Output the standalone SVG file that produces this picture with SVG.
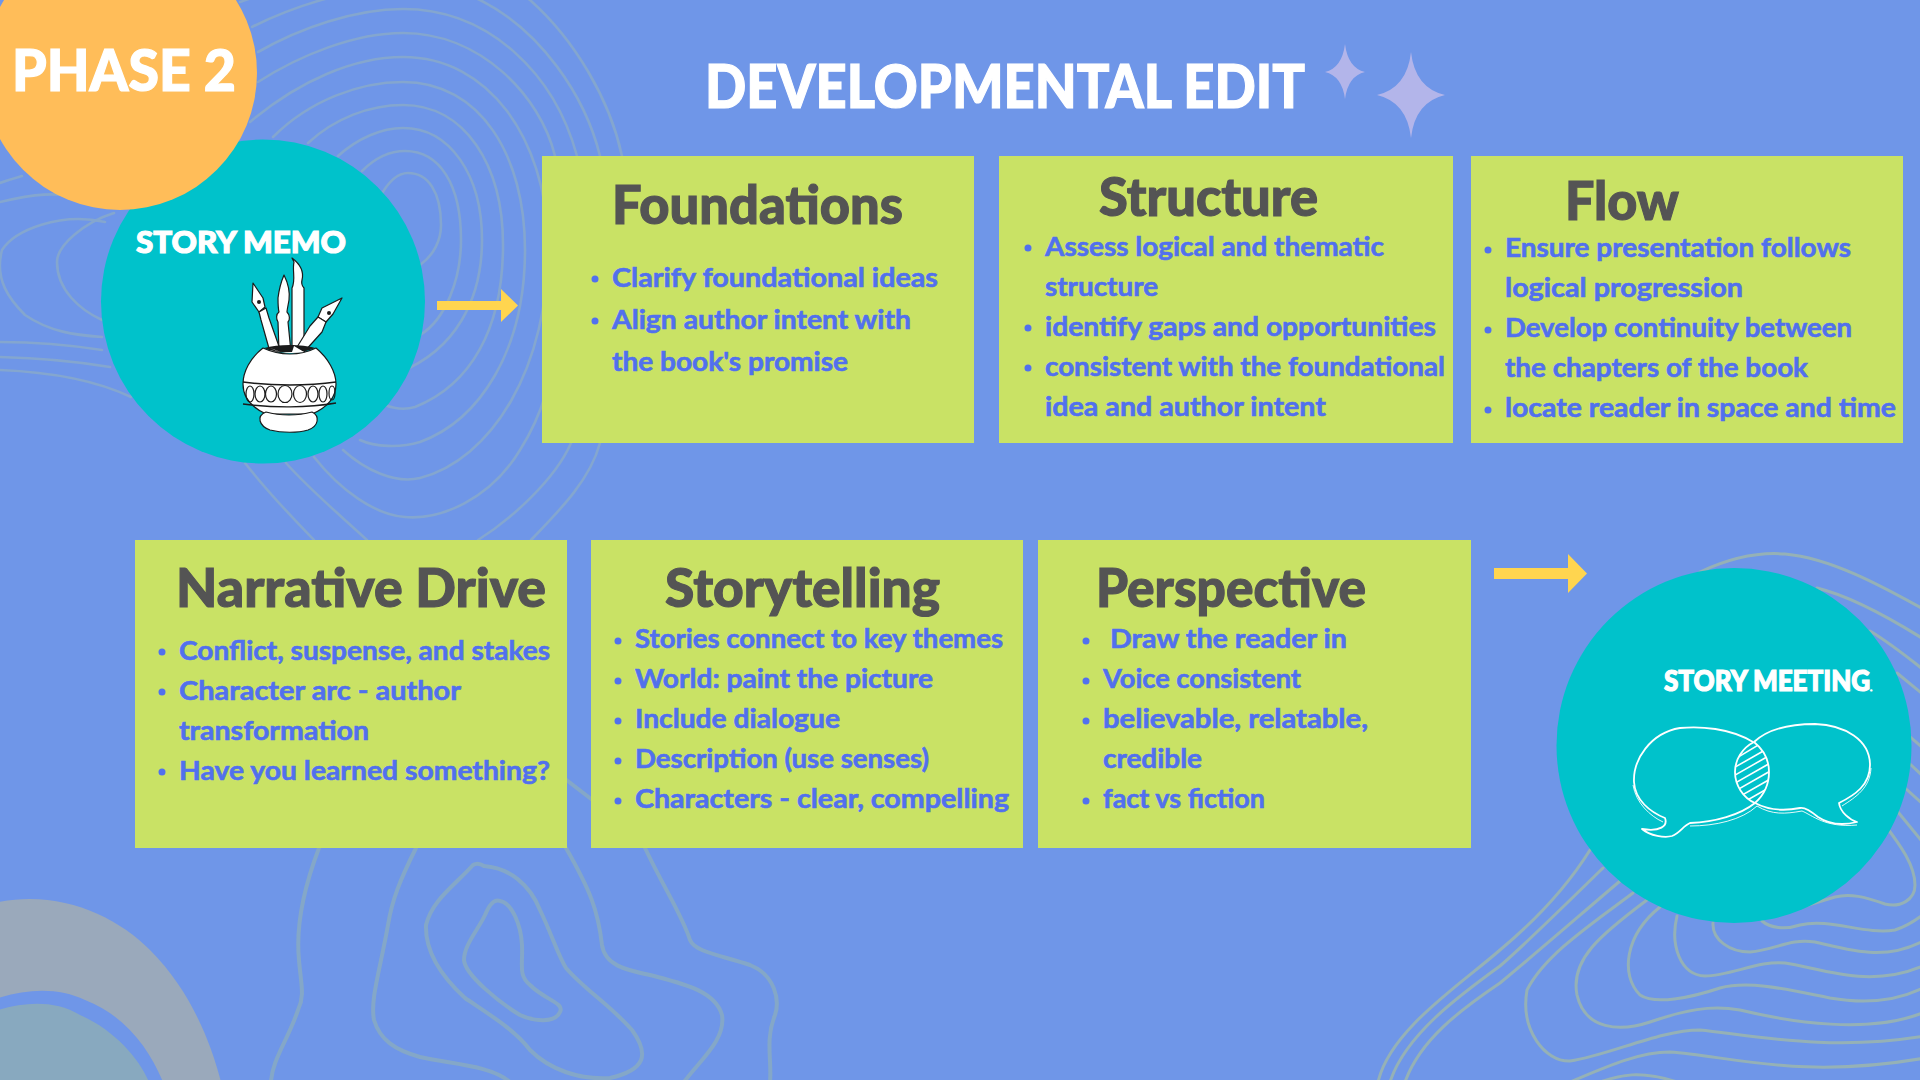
<svg xmlns="http://www.w3.org/2000/svg" width="1920" height="1080" viewBox="0 0 1920 1080">
<style>
text{font-family:"Lato","Open Sans","Liberation Sans",sans-serif;font-weight:700}
.t{font-size:53px;fill:#545454;font-weight:900;stroke:#545454;stroke-width:1.1px}
.l{font-size:27.5px;fill:#5170ee;stroke:#5170ee;stroke-width:.6px}
.w{fill:#fff;font-weight:900;stroke:#fff;stroke-width:1.2px}
.b{fill:#5170ee}
.card{fill:#c9e265}
.teal{fill:#00c2cb}
.c1,.c2,.c3{fill:none;stroke-linecap:round;stroke-linejoin:round}
.c1{stroke:#84a6cf;stroke-width:2.6}
.c2{stroke:#84a7c8;stroke-width:4}
.c3{stroke:#95b1b6;stroke-width:3}
.ink{fill:#fff;stroke:#1a1a1a;stroke-width:1.2;stroke-linejoin:round}
.bub{fill:none;stroke:#fff;stroke-width:1.8;stroke-linejoin:round}
.thin{fill:none;stroke:#fff;stroke-width:.9}
.arr{fill:#ffd54f}
</style>
<defs>
<clipPath id="lens"><path d="M1754 742C1742 748 1735 760 1735 772C1735 785 1743 798 1755 803C1764 795 1769 785 1769 772C1769 760 1764 750 1754 742Z"/></clipPath>
</defs>
<rect width="1920" height="1080" fill="#6f96e8"/>
<g id="background">
<path d="M-2 902C60 890 115 915 150 950C190 990 210 1040 221 1082H-2Z" fill="#9aa9bb"/>
<path d="M-2 998C30 988 60 988 85 1000C125 1015 150 1050 163 1082H-2Z" fill="#6f96e8"/>
<path d="M-2 1010C25 1002 55 1000 80 1015C115 1030 140 1060 149 1082H-2Z" fill="#88a9bf"/>
<g class="c1">
<path d="M380 197C388 182 398 173 408 173C428 173 441 192 441 225C441 240 434 255 420 265"/>
<path d="M362 171C375 158 390 151 405 151C440 151 461 185 461 240C461 280 445 320 420 335"/>
<path d="M338 156C358 138 382 128 403 128C450 128 482 175 482 240C482 300 455 350 400 372"/>
<path d="M308 143C335 118 370 105 403 105C465 105 503 165 503 245C503 330 470 385 415 407C405 410 395 409 385 405"/>
<path d="M273 137C310 100 360 82 403 82C480 82 525 155 525 250C525 350 480 420 420 442C400 448 375 447 360 440"/>
<path d="M250 122C300 80 355 57 403 57C490 57 545 140 548 240C550 370 490 460 420 478C395 484 365 470 343 450"/>
<path d="M258 82C300 55 355 33 403 33C480 33 540 95 555 156C575 260 565 380 520 450C490 500 440 520 405 517C375 515 340 490 314 457"/>
<path d="M258 52C300 28 355 9 403 9C490 9 555 75 577 156C595 270 590 380 571 443C555 480 510 520 478 540"/>
<path d="M252 27C290 8 350 -13 403 -13C440 -13 460 -8 480 0C540 30 585 95 600 156C615 260 612 370 600 443C590 480 560 510 531 540"/>
<path d="M240 2C280 -12 340 -30 403 -30C450 -30 500 -20 530 0C575 40 610 100 622 156"/>
<path d="M245 463C270 495 290 515 314 540"/>
<path d="M286 463C310 490 340 515 367 540"/>
<path d="M114 213C85 222 57 245 57 262C57 290 80 310 102 320"/>
<path d="M105 222C60 212 15 230 2 250C-6 280 10 300 25 315C50 332 75 335 102 337"/>
<path d="M0 202C30 195 60 190 82 200"/>
<path d="M0 183C8 180 15 178 22 176"/>
<path d="M0 342C35 342 70 345 102 350"/>
<path d="M0 357C40 358 80 362 110 367"/>
<path d="M0 370C50 372 95 380 131 397"/>
</g>
<g class="c2">
<path d="M319 848C303 890 296 930 299 960C301 985 305 995 298 1010C288 1040 272 1060 271 1082"/>
<path d="M416 848C400 880 392 900 388 925C380 970 370 1000 374 1020C380 1040 395 1050 420 1057C450 1064 490 1065 510 1082"/>
<path d="M484 866C510 868 530 885 540 910C552 935 558 955 566 968C585 990 610 1005 632 1030C650 1055 645 1070 610 1078C580 1080 550 1070 530 1050C515 1030 490 1015 465 998C440 975 425 950 426 925C432 900 455 885 473 865Q478 862 484 866Z"/>
<path d="M500 901C512 903 521 925 522 945C523 965 518 975 530 985C545 1000 565 1003 560 1012C555 1023 535 1022 520 1015C500 1003 465 975 464 960C464 945 478 930 485 915C490 903 495 899 500 901Z"/>
<path d="M566 848C590 890 598 910 602 945C605 965 625 970 650 975C680 983 715 990 722 1015C726 1040 700 1060 684 1082"/>
<path d="M645 848C665 890 682 915 690 940C695 952 720 955 750 965C775 975 780 1000 775 1015C765 1040 772 1060 770 1082"/>
<path d="M560 775L595 802"/>
</g>
<g class="c3">
<path d="M1700 572C1730 558 1760 552 1785 554C1830 558 1880 585 1925 610"/>
<path d="M1817 588C1850 596 1890 618 1925 640"/>
<path d="M1870 631C1885 640 1905 655 1925 671"/>
<path d="M1897 673L1925 696"/>
<path d="M1908 735L1925 750"/>
<path d="M1910 764L1925 778"/>
<path d="M1905 788L1925 806"/>
<path d="M1898 812L1925 845"/>
<path d="M1885 825C1900 845 1915 865 1915 885C1915 900 1900 908 1885 904C1865 897 1850 893 1835 897C1825 900 1815 903 1805 906"/>
<path d="M1762 921C1770 928 1785 930 1800 925C1830 918 1865 935 1895 930Q1910 925 1925 913"/>
<path d="M1713 923C1712 940 1730 952 1750 952C1775 950 1790 938 1815 942C1850 950 1885 962 1925 940"/>
<path d="M1677 916C1670 945 1680 975 1705 976C1730 976 1760 960 1785 963C1820 968 1870 990 1925 965"/>
<path d="M1660 907C1625 935 1620 975 1640 995C1655 1005 1690 998 1720 988C1750 980 1790 990 1830 998C1870 1005 1900 1000 1925 987"/>
<path d="M1647 900C1600 935 1570 960 1577 995C1585 1030 1620 1032 1650 1022C1685 1010 1710 1005 1740 1010C1790 1022 1870 1035 1925 1012"/>
<path d="M1633 893C1590 925 1545 955 1527 990C1520 1030 1545 1062 1570 1061C1610 1055 1660 1030 1700 1030C1750 1035 1830 1052 1925 1036"/>
<path d="M1620 881C1580 915 1540 950 1500 983C1460 1010 1420 1040 1405 1082"/>
<path d="M1603 868C1570 900 1530 940 1500 966C1460 995 1405 1035 1390 1082"/>
<path d="M1590 850C1565 890 1530 925 1500 950C1460 985 1390 1030 1378 1082"/>
<path d="M1570 1082C1610 1065 1640 1052 1670 1052C1730 1056 1800 1080 1925 1058"/>
<path d="M1600 1082C1620 1075 1640 1070 1677 1082"/>
</g>
</g>

<g id="title">
<text class="w" x="705" y="108" font-size="61" textLength="600" lengthAdjust="spacingAndGlyphs">DEVELOPMENTAL EDIT</text>
<path d="M1345 44Q1348 68 1365 72Q1348 76 1345 99Q1342 76 1325 72Q1342 68 1345 44Z" fill="#b3b5ea"/>
<path d="M1411 52Q1415 88 1445 95Q1415 102 1411 138Q1407 102 1377 95Q1407 88 1411 52Z" fill="#b3b5ea"/>
</g>

<g id="story-memo">
<circle class="teal" cx="263" cy="301.5" r="162"/>
<text class="w" x="136" y="253" font-size="31" textLength="210" lengthAdjust="spacingAndGlyphs">STORY MEMO</text>
<g id="pen-pot">
<path class="ink" d="M292 288C296 280 292 270 294 262L292 258C300 264 304 272 302 280C301 284 303 287 304 288L304 352L292 352Z"/>
<path class="ink" d="M284 275C288 283 290 292 289 300C288 306 287 310 287 312C290 315 290 320 288 322L291 352L279 352L278 322C276 319 276 314 279 312C278 308 278 304 278 298C279 290 281 282 284 275Z"/>
<path class="ink" d="M253 283L263 298L265 307L259 312L252 302Z"/>
<path class="ink" d="M259 312L266 308L269 318L281 352L270 352L261 320Z"/>
<path class="ink" d="M342 298L333 314L326 322L318 317L322 308Z"/>
<path class="ink" d="M318 317L326 322L322 332L304 352L294 352L310 326Z"/>
<circle cx="259" cy="302" r="2" fill="#1a1a1a"/>
<circle cx="329" cy="313" r="2" fill="#1a1a1a"/>
<path class="ink" d="M263 348C250 358 243 372 243 384C243 398 253 408 266 414L312 414C326 408 336 398 336 384C336 372 328 358 316 348C300 356 280 356 263 348Z"/>
<path d="M264 348C278 344 302 344 315 348C302 354 278 354 264 348Z" fill="#1a1a1a"/>
<path d="M270 348L281 352L292 352L294 346L304 352C290 354 280 353 270 348Z" fill="#fff"/>
<path d="M243 382C272 386 308 386 336 382M243 404C272 408 308 408 336 403" fill="none" stroke="#1a1a1a" stroke-width="1.4"/>
<g fill="none" stroke="#1a1a1a" stroke-width="1.2">
<ellipse cx="250" cy="394" rx="4" ry="8"/>
<ellipse cx="260" cy="394" rx="5" ry="8"/>
<ellipse cx="271" cy="394" rx="5.5" ry="8"/>
<ellipse cx="285" cy="394" rx="7" ry="8.5"/>
<ellipse cx="300" cy="394" rx="6.5" ry="8.5"/>
<ellipse cx="313" cy="394" rx="5" ry="8"/>
<ellipse cx="323" cy="394" rx="4" ry="8"/>
<ellipse cx="332" cy="393" rx="3" ry="7"/>
</g>
<path class="ink" d="M266 412C256 416 259 426 270 430C282 433 298 433 308 430C319 426 320 416 312 412C298 416 280 416 266 412Z"/>
</g>
</g>

<g id="phase-2">
<circle cx="120" cy="73" r="137" fill="#ffbd59"/>
<text class="w" x="12" y="91" font-size="58" textLength="224" lengthAdjust="spacingAndGlyphs">PHASE 2</text>
</g>

<g id="foundations">
<rect class="card" x="542" y="156" width="432" height="287"/>
<text class="t" x="612" y="224" textLength="291" lengthAdjust="spacingAndGlyphs">Foundations</text>
<circle class="b" cx="595" cy="279" r="3.5"/><circle class="b" cx="595" cy="321" r="3.5"/>
<text class="l" x="612" y="287" textLength="326" lengthAdjust="spacingAndGlyphs">Clarify foundational ideas</text>
<text class="l" x="612" y="329" textLength="299" lengthAdjust="spacingAndGlyphs">Align author intent with</text>
<text class="l" x="612" y="371" textLength="236" lengthAdjust="spacingAndGlyphs">the book's promise</text>
</g>

<g id="structure">
<rect class="card" x="999" y="156" width="454" height="287"/>
<text class="t" x="1099" y="216" textLength="219" lengthAdjust="spacingAndGlyphs">Structure</text>
<circle class="b" cx="1028" cy="248" r="3.5"/><circle class="b" cx="1028" cy="328" r="3.5"/><circle class="b" cx="1028" cy="368" r="3.5"/>
<text class="l" x="1045" y="256" textLength="339" lengthAdjust="spacingAndGlyphs">Assess logical and thematic</text>
<text class="l" x="1045" y="296" textLength="113" lengthAdjust="spacingAndGlyphs">structure</text>
<text class="l" x="1045" y="336" textLength="391" lengthAdjust="spacingAndGlyphs">identify gaps and opportunities</text>
<text class="l" x="1045" y="376" textLength="400" lengthAdjust="spacingAndGlyphs">consistent with the foundational</text>
<text class="l" x="1045" y="416" textLength="281" lengthAdjust="spacingAndGlyphs">idea and author intent</text>
</g>

<g id="flow">
<rect class="card" x="1471" y="156" width="432" height="287"/>
<text class="t" x="1565" y="220" textLength="114" lengthAdjust="spacingAndGlyphs">Flow</text>
<circle class="b" cx="1488" cy="250" r="3.5"/><circle class="b" cx="1488" cy="330" r="3.5"/><circle class="b" cx="1488" cy="410" r="3.5"/>
<text class="l" x="1505" y="257" textLength="346" lengthAdjust="spacingAndGlyphs">Ensure presentation follows</text>
<text class="l" x="1505" y="297" textLength="238" lengthAdjust="spacingAndGlyphs">logical progression</text>
<text class="l" x="1505" y="337" textLength="347" lengthAdjust="spacingAndGlyphs">Develop continuity between</text>
<text class="l" x="1505" y="377" textLength="303" lengthAdjust="spacingAndGlyphs">the chapters of the book</text>
<text class="l" x="1505" y="417" textLength="391" lengthAdjust="spacingAndGlyphs">locate reader in space and time</text>
</g>

<g id="narrative-drive">
<rect class="card" x="135" y="540" width="432" height="308"/>
<text class="t" x="176" y="607" textLength="370" lengthAdjust="spacingAndGlyphs">Narrative Drive</text>
<circle class="b" cx="162" cy="652" r="3.5"/><circle class="b" cx="162" cy="692" r="3.5"/><circle class="b" cx="162" cy="772" r="3.5"/>
<text class="l" x="179" y="660" textLength="371" lengthAdjust="spacingAndGlyphs">Conflict, suspense, and stakes</text>
<text class="l" x="179" y="700" textLength="282" lengthAdjust="spacingAndGlyphs">Character arc - author</text>
<text class="l" x="179" y="740" textLength="190" lengthAdjust="spacingAndGlyphs">transformation</text>
<text class="l" x="179" y="780" textLength="371" lengthAdjust="spacingAndGlyphs">Have you learned something?</text>
</g>

<g id="storytelling">
<rect class="card" x="591" y="540" width="432" height="308"/>
<text class="t" x="665" y="607" textLength="275" lengthAdjust="spacingAndGlyphs">Storytelling</text>
<circle class="b" cx="618" cy="641" r="3.5"/><circle class="b" cx="618" cy="681" r="3.5"/><circle class="b" cx="618" cy="721" r="3.5"/><circle class="b" cx="618" cy="761" r="3.5"/><circle class="b" cx="618" cy="801" r="3.5"/>
<text class="l" x="635" y="648" textLength="368" lengthAdjust="spacingAndGlyphs">Stories connect to key themes</text>
<text class="l" x="635" y="688" textLength="298" lengthAdjust="spacingAndGlyphs">World: paint the picture</text>
<text class="l" x="635" y="728" textLength="205" lengthAdjust="spacingAndGlyphs">Include dialogue</text>
<text class="l" x="635" y="768" textLength="294" lengthAdjust="spacingAndGlyphs">Description (use senses)</text>
<text class="l" x="635" y="808" textLength="374" lengthAdjust="spacingAndGlyphs">Characters - clear, compelling</text>
</g>

<g id="perspective">
<rect class="card" x="1038" y="540" width="433" height="308"/>
<text class="t" x="1096" y="607" textLength="270" lengthAdjust="spacingAndGlyphs">Perspective</text>
<circle class="b" cx="1086" cy="641" r="3.5"/><circle class="b" cx="1086" cy="681" r="3.5"/><circle class="b" cx="1086" cy="721" r="3.5"/><circle class="b" cx="1086" cy="801" r="3.5"/>
<text class="l" x="1110" y="648" textLength="237" lengthAdjust="spacingAndGlyphs">Draw the reader in</text>
<text class="l" x="1103" y="688" textLength="198" lengthAdjust="spacingAndGlyphs">Voice consistent</text>
<text class="l" x="1103" y="728" textLength="265" lengthAdjust="spacingAndGlyphs">believable, relatable,</text>
<text class="l" x="1103" y="768" textLength="99" lengthAdjust="spacingAndGlyphs">credible</text>
<text class="l" x="1103" y="808" textLength="162" lengthAdjust="spacingAndGlyphs">fact vs fiction</text>
</g>

<g id="story-meeting">
<circle class="teal" cx="1734" cy="745.5" r="177.5"/>
<text class="w" x="1664" y="691" font-size="28" textLength="208" lengthAdjust="spacingAndGlyphs">STORY MEETING<tspan font-size="8">.</tspan></text>
<g id="speech-bubbles">
<path class="bub" d="M1753 742C1730 728 1700 726 1680 728C1650 733 1633 760 1634 782C1635 800 1650 812 1665 818C1668 826 1660 832 1642 829C1650 836 1665 838 1672 836C1680 833 1683 826 1690 823C1715 822 1740 815 1755 803"/>
<path class="bub" d="M1754 742C1770 727 1795 724 1815 724C1845 725 1870 740 1870 765C1870 785 1855 795 1839 803C1840 812 1850 820 1857 822C1845 825 1830 825 1818 817C1812 812 1805 807 1800 808C1785 811 1770 811 1755 803"/>
<path class="bub" d="M1754 742C1742 748 1735 760 1735 772C1735 785 1743 798 1755 803C1764 795 1769 785 1769 772C1769 760 1764 750 1754 742Z"/>
<path class="thin" d="M1633 785C1636 803 1650 816 1663 822M1690 826C1715 826 1742 820 1757 806M1757 806C1772 815 1785 814 1802 811C1812 815 1825 828 1857 825M1871 768C1870 788 1856 797 1842 806"/>
<g clip-path="url(#lens)" stroke="#fff" stroke-width="1.6">
<path d="M1730 762L1770 738M1730 770L1772 746M1730 778L1772 754M1730 786L1772 762M1730 794L1772 770M1730 802L1772 778M1730 810L1772 786M1735 815L1772 794"/>
</g>
</g>
</g>

<g id="connectors">
<path class="arr" d="M437 301H501V289L518 305.5L501 322V310H437Z"/>
<path class="arr" d="M1494 568H1568V554L1587 573.5L1568 593V579H1494Z"/>
</g>
</svg>
